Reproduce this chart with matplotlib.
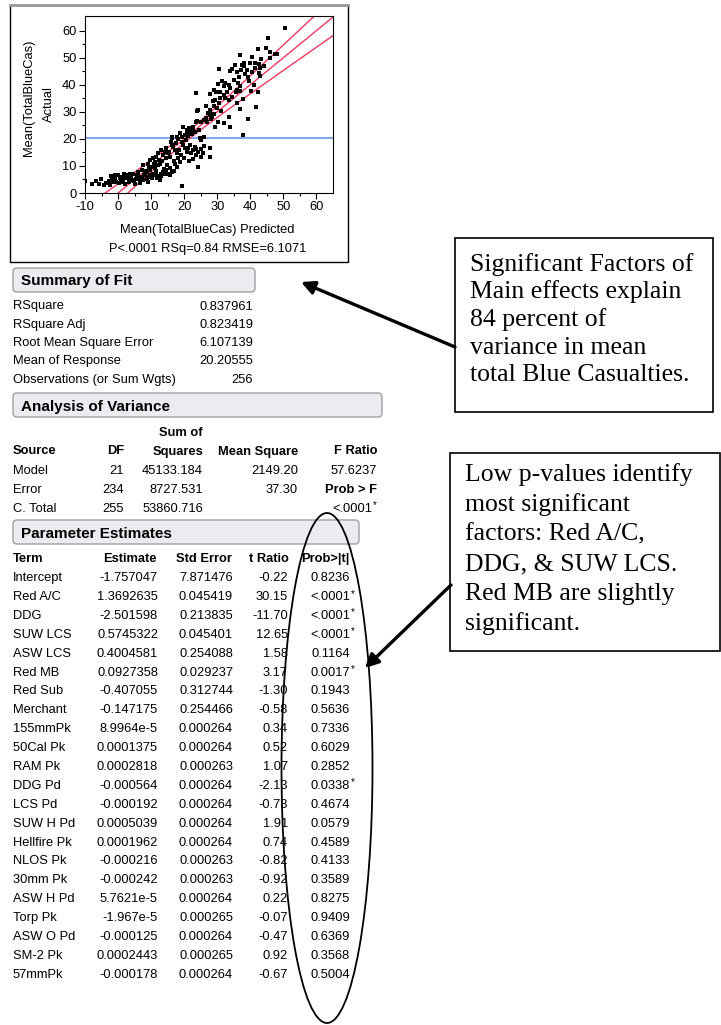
import numpy as np
import matplotlib.pyplot as plt
from matplotlib.patches import Rectangle, FancyBboxPatch, Ellipse

plt.rcParams['font.family'] = ['Liberation Sans', 'DejaVu Sans']
plt.rcParams['axes.unicode_minus'] = False

# actual by predicted
pred = [50.4, 45.4, 42.4, 44.7, 45.9, 47.4, 48.1, 36.8, 40.6, 43.3, 41.3, 42.5, 30.4, 34.5, 35.4, 37.5,
        38.0, 39.8, 39.0, 37.2, 36.0, 41.4, 42.8, 42.5, 43.0, 39.2, 36.5, 35.0, 36.3, 32.4, 31.9, 30.2,
        33.4, 29.7, 28.9, 27.9, 30.9, 31.9, 34.5, 36.0, 37.0, 40.2, 42.3, 23.6, 29.4, 30.9, 30.4, 33.4,
        26.6, 29.1, 27.9, 29.9, 36.0, 41.7, 37.0, 24.0, 27.9, 27.7, 28.4, 33.4, 25.9, 23.8, 25.2, 26.9,
        30.1, 31.9, 33.9, 39.3, 29.4, 19.6, 21.5, 22.8, 22.0, 20.8, 23.3, 18.8, 20.3, 17.8, 37.8, 24.8,
        16.3, 25.9,
        -10.1, -7.9, -5.9, -5.1, -4.3, -2.8, -2.5, -1.7, -1.5, -0.5, 0.0, 0.5, 1.0, -1.0, 1.5, 2.0,
        2.5, 3.0, 3.5, 4.0, 4.5, 5.0, 5.6, 6.1, 6.6, 7.1, 7.6, 8.1, 8.6, 9.1, 9.6, 10.1,
        10.6, 11.1, 11.6, 12.1, 12.6, 7.1, 7.6, 9.1, 9.6, 10.6, 11.1, 11.6, 12.6, 13.1, 13.6, 14.1,
        14.6, 15.1, 15.6, 16.2, 12.1, 13.1, 13.6, 14.1, 14.6, 15.1, 15.6, 15.9, 16.2, 16.7, 17.2, 17.7,
        18.2, 18.7, 17.2, 17.7, 19.2, 19.7, 20.2, 20.7, 21.2, 21.7, 22.2, 22.7, 23.2, 23.7, 24.2, 24.2,
        25.2, 25.8, 27.8, 27.8, 24.7, 25.2, 19.2, 18.7, 19.7, 20.7, 21.7, 22.7, 23.7, 24.2,
        -3.5, -2.0, 0.8, 1.8, 3.2, 4.4, 5.5, 6.5, 7.8, 8.8, 9.8, 10.4, 11.5, 12.8, 13.8, 14.8,
        15.8, 16.8, 3.8, 2.2, -0.8, 6.0, 8.2, 9.4, 10.8, 12.4, 13.4, 14.4, 15.4, 16.4, 17.4, 18.4,
        19.4, 20.4, 21.2, 22.4, 23.2, 24.6, 19.0, 20.0, 21.4, 22.8, 23.6, 25.0, 26.0, 17.0, 18.0, 26.5,
        27.2, 28.2, 29.0, 31.0, 32.2, 33.0, 34.0, 35.6, 36.8, 38.5, 40.4, 41.0, 44.0, 46.0, 38.2, 28.6,
        31.4, 33.8, 37.8, 39.6, -6.8, 0.2, 2.8, 4.8, 6.3, 9.0, 11.8, 13.0]
actual = [61.1, 57.1, 53.2, 53.5, 52.2, 51.4, 51.4, 51.0, 50.4, 49.4, 47.9, 47.6, 45.8, 45.8, 47.3, 47.3,
          47.9, 47.9, 45.5, 45.5, 44.6, 46.1, 46.1, 44.2, 43.4, 43.0, 43.0, 41.8, 40.5, 40.5, 39.6, 40.2,
          39.9, 37.5, 38.1, 36.6, 37.2, 36.2, 35.6, 38.1, 37.7, 37.7, 37.5, 37.1, 34.4, 35.0, 33.1, 34.4,
          32.2, 32.3, 30.7, 31.3, 33.1, 31.9, 30.9, 30.4, 30.1, 28.8, 28.2, 28.2, 27.0, 26.7, 26.4, 26.4,
          26.4, 26.0, 24.3, 27.3, 24.5, 24.5, 23.9, 24.3, 22.7, 22.7, 22.7, 22.1, 21.4, 20.8, 21.4, 20.2,
          20.8, 20.8,
          4.4, 3.2, 3.5, 5.0, 2.9, 4.5, 2.9, 5.4, 3.9, 4.2, 6.6, 5.4, 6.0, 6.6, 4.8, 3.5,
          6.6, 5.4, 7.2, 6.0, 4.8, 3.5, 6.6, 7.9, 5.4, 6.0, 4.8, 6.6, 7.9, 6.0, 8.5, 9.7,
          7.2, 9.1, 6.6, 10.3, 4.8, 8.5, 10.3, 10.9, 12.2, 12.8, 11.5, 13.4, 10.9, 7.2, 7.9, 7.2,
          8.5, 7.2, 6.6, 7.9, 14.6, 15.9, 14.0, 15.3, 16.5, 14.6, 13.4, 19.0, 20.2, 17.1, 15.9, 14.6,
          12.8, 11.5, 10.9, 9.7, 2.7, 17.7, 16.5, 15.3, 16.5, 17.7, 14.6, 15.9, 17.1, 14.0, 15.3, 9.7,
          13.4, 14.6, 16.5, 13.4, 20.2, 19.6, 20.8, 22.0, 24.5, 23.3, 22.6, 23.9, 26.3, 30.7,
          3.8, 6.2, 4.0, 7.0, 4.2, 7.0, 5.0, 3.8, 6.8, 5.2, 6.8, 5.6, 8.0, 6.2, 9.0, 10.2,
          9.2, 8.2, 5.2, 5.8, 5.0, 6.8, 8.2, 9.2, 10.8, 12.2, 11.8, 13.0, 15.2, 17.8, 18.6, 16.0,
          19.0, 19.6, 21.0, 21.8, 22.6, 23.4, 14.2, 13.0, 12.0, 12.6, 16.2, 16.4, 17.4, 12.0, 20.0, 27.8,
          29.6, 27.2, 29.2, 30.2, 35.0, 37.5, 38.8, 37.2, 39.6, 44.0, 44.6, 40.0, 47.0, 50.0, 47.0, 34.0,
          41.5, 45.0, 34.6, 41.4, 4.6, 3.6, 5.6, 4.4, 5.0, 4.2, 5.6, 6.4]

mean_resp = 20.20555

# summary of fit
fit_labels = ['RSquare', 'RSquare Adj', 'Root Mean Square Error', 'Mean of Response',
              'Observations (or Sum Wgts)']
fit_values = [0.837961, 0.823419, 6.107139, 20.20555, 256]

# analysis of variance
sources = ['Model', 'Error', 'C. Total']
df = [21, 234, 255]
sum_sq = [45133.184, 8727.531, 53860.716]
mean_sq = [2149.20, 37.30]
f_ratio = 57.6237
prob_f = 0.00001

# parameter estimates
terms = ['Intercept', 'Red A/C', 'DDG', 'SUW LCS', 'ASW LCS', 'Red MB', 'Red Sub', 'Merchant',
         '155mmPk', '50Cal Pk', 'RAM Pk', 'DDG Pd', 'LCS Pd', 'SUW H Pd', 'Hellfire Pk', 'NLOS Pk',
         '30mm Pk', 'ASW H Pd', 'Torp Pk', 'ASW O Pd', 'SM-2 Pk', '57mmPk']
estimate = [-1.757047, 1.3692635, -2.501598, 0.5745322, 0.4004581, 0.0927358, -0.407055, -0.147175,
            8.9964e-5, 0.0001375, 0.0002818, -0.000564, -0.000192, 0.0005039, 0.0001962, -0.000216,
            -0.000242, 5.7621e-5, -1.967e-5, -0.000125, 0.0002443, -0.000178]
std_err = [7.871476, 0.045419, 0.213835, 0.045401, 0.254088, 0.029237, 0.312744, 0.254466,
           0.000264, 0.000264, 0.000263, 0.000264, 0.000264, 0.000264, 0.000264, 0.000263,
           0.000263, 0.000264, 0.000265, 0.000264, 0.000265, 0.000264]
t_ratio = [-0.22, 30.15, -11.70, 12.65, 1.58, 3.17, -1.30, -0.58, 0.34, 0.52, 1.07, -2.13,
           -0.73, 1.91, 0.74, -0.82, -0.92, 0.22, -0.07, -0.47, 0.92, -0.67]
p_value = [0.8236, 0.00001, 0.00001, 0.00001, 0.1164, 0.0017, 0.1943, 0.5636, 0.7336, 0.6029,
           0.2852, 0.0338, 0.4674, 0.0579, 0.4589, 0.4133, 0.3589, 0.8275, 0.9409, 0.6369,
           0.3568, 0.5004]

note1 = ['Significant Factors of', 'Main effects explain', '84 percent of',
         'variance in mean', 'total Blue Casualties.']
note2 = ['Low p-values identify', 'most significant', 'factors: Red A/C,',
         'DDG, & SUW LCS.', 'Red MB are slightly', 'significant.']


def jmp(v, width):
    # fixed width number like JMP prints it
    if v != 0 and abs(v) < 1e-4:
        exp = int(np.floor(np.log10(abs(v))))
        tail = 'e%d' % exp
        sign = 1 if v < 0 else 0
        d = width - len(tail) - sign - 2
        return ('%.*f' % (d, v / 10 ** exp)) + tail
    sign = 1 if v < 0 else 0
    ip = len(str(int(abs(v))))
    d = max(width - sign - ip - 1, 0)
    return '%.*f' % (d, v)


def pfmt(p):
    return '<.0001' if p < 0.0001 else '%.4f' % p


W, H = 721, 1025
fig = plt.figure(figsize=(W / 100, H / 100), dpi=100)
ov = fig.add_axes([0, 0, 1, 1], zorder=0)
ov.set_xlim(0, W)
ov.set_ylim(H, 0)
ov.axis('off')

FS = 9.3
serif = ['Liberation Serif', 'DejaVu Serif']

# ---- actual by predicted plot ----
ov.add_patch(Rectangle((10, 5), 338, 257, fill=False, ec='black', lw=1))
ov.plot([10, 348], [5, 5], color='#9a9a9a', lw=2)

ax = fig.add_axes([85 / W, 1 - 193 / H, 248 / W, 177 / H], zorder=2)
ax.scatter(pred, actual, marker='s', s=7, color='black', linewidths=0, zorder=3)
xx = np.linspace(-10, 65, 200)
band = np.sqrt(2.25 + 0.0223 * (xx - mean_resp) ** 2)
for yy in (xx, xx + band, xx - band):
    ax.plot(xx, yy, color='#ee3a5f', lw=1, zorder=2)
ax.axhline(mean_resp, color='#7fa8e8', lw=1.5, zorder=1)
ax.set_xlim(-10, 65)
ax.set_ylim(0, 65.4)
ax.set_xticks(range(-10, 61, 10))
ax.set_yticks(range(0, 61, 10))
ax.set_xticks(range(-5, 65, 10), minor=True)
ax.set_yticks(range(5, 65, 10), minor=True)
ax.tick_params(which='major', direction='out', length=4, width=0.8, labelsize=FS, pad=2)
ax.tick_params(which='minor', direction='out', length=2.3, width=0.8)
for s in ax.spines.values():
    s.set_linewidth(0.8)

ov.text(29, 97.5, 'Mean(TotalBlueCas)', rotation=90, ha='center', va='center', fontsize=FS)
ov.text(49, 104, 'Actual', rotation=90, ha='center', va='center', fontsize=FS)
ov.text(207, 233, 'Mean(TotalBlueCas) Predicted', ha='center', va='baseline', fontsize=FS)
ov.text(208, 252, 'P<.0001 RSq=0.84 RMSE=6.1071', ha='center', va='baseline', fontsize=FS)


def header(y0, x1, title):
    ov.add_patch(FancyBboxPatch((13, y0), x1 - 13, 24, boxstyle='round,pad=0,rounding_size=4',
                                fc='#ececf0', ec='#a0a0a0', lw=1))
    ov.text(21, y0 + 17.5, title, fontsize=11, fontweight='bold', va='baseline')


# ---- summary of fit ----
header(268, 255, 'Summary of Fit')
for i, (lab, v) in enumerate(zip(fit_labels, fit_values)):
    y = 309.5 + i * 18.3
    ov.text(13, y, lab, fontsize=FS, va='baseline')
    txt = str(v) if isinstance(v, int) else jmp(v, 8)
    ov.text(253, y, txt, fontsize=FS, va='baseline', ha='right')

# ---- analysis of variance ----
header(393, 382, 'Analysis of Variance')
ov.text(203, 436, 'Sum of', fontsize=FS, fontweight='bold', ha='right', va='baseline')
cols = [(13, 'Source', 'left'), (124, 'DF', 'right'), (203, 'Squares', 'right'),
        (298, 'Mean Square', 'right'), (377, 'F Ratio', 'right')]
for x, lab, ha in cols:
    ov.text(x, 454.5, lab, fontsize=FS, fontweight='bold', ha=ha, va='baseline')
for i, src in enumerate(sources):
    y = 473.5 + i * 19.1
    ov.text(13, y, src, fontsize=FS, va='baseline')
    ov.text(124, y, str(df[i]), fontsize=FS, va='baseline', ha='right')
    ov.text(203, y, '%.3f' % sum_sq[i], fontsize=FS, va='baseline', ha='right')
    if i < 2:
        ov.text(298, y, '%.2f' % mean_sq[i], fontsize=FS, va='baseline', ha='right')
ov.text(377, 473.5, '%.4f' % f_ratio, fontsize=FS, va='baseline', ha='right')
ov.text(377, 492.6, 'Prob > F', fontsize=FS, fontweight='bold', va='baseline', ha='right')
ov.text(372, 511.7, pfmt(prob_f), fontsize=FS, va='baseline', ha='right')
ov.text(372.5, 508, '*', fontsize=7, va='baseline', ha='left')

# ---- parameter estimates ----
header(520, 359, 'Parameter Estimates')
pcols = [(13, 'Term', 'left'), (157, 'Estimate', 'right'), (232, 'Std Error', 'right'),
         (289, 't Ratio', 'right'), (350, 'Prob>|t|', 'right')]
for x, lab, ha in pcols:
    ov.text(x, 561.8, lab, fontsize=FS, fontweight='bold', ha=ha, va='baseline')
for i, term in enumerate(terms):
    y = 581.2 + i * 18.88
    ov.text(13, y, term, fontsize=FS, va='baseline')
    ov.text(158, y, jmp(estimate[i], 9), fontsize=FS, va='baseline', ha='right')
    ov.text(233, y, jmp(std_err[i], 8), fontsize=FS, va='baseline', ha='right')
    ov.text(288, y, '%.2f' % t_ratio[i], fontsize=FS, va='baseline', ha='right')
    ov.text(350, y, pfmt(p_value[i]), fontsize=FS, va='baseline', ha='right')
    if p_value[i] < 0.05:
        ov.text(351, y - 3.5, '*', fontsize=7, va='baseline', ha='left')

ov.add_patch(Ellipse((327, 768), 91, 510, fill=False, ec='black', lw=1.3))

# ---- callouts ----
ov.add_patch(Rectangle((455, 238), 258, 174, fill=False, ec='black', lw=1.2))
for i, line in enumerate(note1):
    ov.text(470, 270.7 + i * 27.6, line, fontsize=18.5, family=serif, va='baseline')
ov.add_patch(Rectangle((450, 453), 270, 198, fill=False, ec='black', lw=1.2))
for i, line in enumerate(note2):
    ov.text(465, 480.7 + i * 29.9, line, fontsize=18.5, family=serif, va='baseline')

arrow = dict(arrowstyle='-|>', lw=2.4, color='black', mutation_scale=20, shrinkA=0, shrinkB=0)
ov.annotate('', xy=(301, 282), xytext=(455, 347), arrowprops=arrow)
ov.annotate('', xy=(365, 668), xytext=(451, 585), arrowprops=arrow)

fig.savefig('out.png', dpi=100)
